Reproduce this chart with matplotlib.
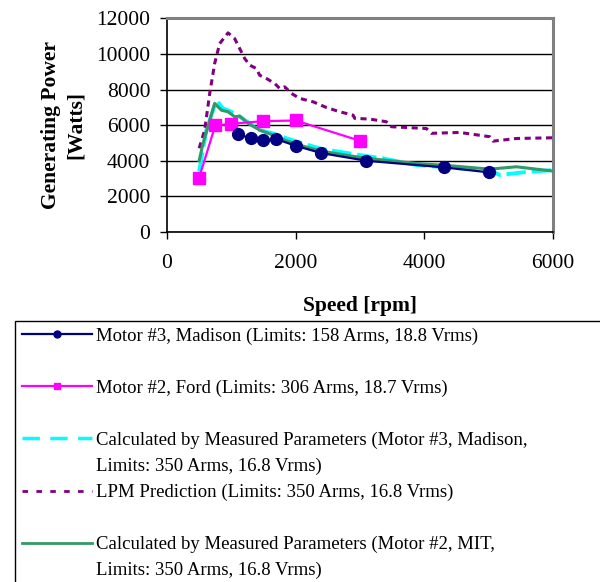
import matplotlib.pyplot as plt
from matplotlib.lines import Line2D

plt.rcParams['font.family'] = ['Liberation Serif', 'DejaVu Serif']
plt.rcParams['font.size'] = 15.5

# Motor #3, Madison (measured)
madison_x = [1100, 1300, 1500, 1700, 2000, 2400, 3100, 4300, 5000]
madison_y = [5480, 5270, 5160, 5215, 4840, 4430, 4000, 3630, 3350]

# Motor #2, Ford (measured)
ford_x = [500, 750, 1000, 1500, 2000, 3000]
ford_y = [3050, 5980, 6075, 6225, 6260, 5120]

# Calculated by measured parameters, Motor #3 Madison
calc3_x = [500, 612, 768, 871, 1001, 1130, 1285, 1441, 1648, 1856, 2114, 2373,
           2685, 2996, 3358, 3877, 4395, 5016, 5172, 5534, 6000]
calc3_y = [3400, 5720, 7400, 6940, 6750, 6470, 6100, 5720, 5540, 5260, 4970, 4690,
           4500, 4320, 4130, 3760, 3610, 3480, 3200, 3350, 3480]

# LPM prediction
lpm_x = [500, 586, 664, 741, 819, 949, 1052, 1130, 1208, 1285, 1389, 1441, 1545,
         1674, 1752, 1830, 1934, 2063, 2270, 2478, 2685, 2892, 2918, 3151, 3410,
         3488, 4032, 4110, 4550, 5016, 5068, 5431, 6000]
lpm_y = [4700, 5720, 7780, 9460, 10580, 11180, 10860, 10300, 9740, 9370, 9180, 8800,
         8620, 8340, 8060, 8150, 7780, 7500, 7310, 6990, 6750, 6560, 6380, 6340, 6190,
         5910, 5810, 5540, 5590, 5350, 5100, 5250, 5290]

# Calculated by measured parameters, Motor #2 MIT
calc2_x = [500, 560, 741, 845, 949, 1052, 1130, 1260, 1441, 1648, 1856, 2114, 2373,
           2685, 2996, 3358, 3877, 4395, 5016, 5431, 6000]
calc2_y = [4000, 4970, 7220, 6840, 6750, 6470, 6510, 6100, 5720, 5440, 5120, 4820,
           4560, 4370, 4190, 4040, 3850, 3720, 3530, 3660, 3420]

labels = [
    'Motor #3, Madison (Limits: 158 Arms, 18.8 Vrms)',
    'Motor #2, Ford (Limits: 306 Arms, 18.7 Vrms)',
    'Calculated by Measured Parameters (Motor #3, Madison,',
    'Limits: 350 Arms, 16.8 Vrms)',
    'LPM Prediction (Limits: 350 Arms, 16.8 Vrms)',
    'Calculated by Measured Parameters (Motor #2, MIT,',
    'Limits: 350 Arms, 16.8 Vrms)',
]

fig = plt.figure(figsize=(6, 5.82), dpi=100)
ax = fig.add_axes([0.2783, 0.6014, 0.6434, 0.3672])

ax.plot(calc3_x, calc3_y, color='#00FFFF', lw=2.8, ls=(0, (5, 1.5)), zorder=3)
ax.plot(lpm_x, lpm_y, color='#800080', lw=2.2, ls=(0, (2, 1.5)), zorder=3)
ax.plot(calc2_x, calc2_y, color='#339966', lw=2.2, zorder=4)
ax.plot(ford_x, ford_y, color='#FF00FF', lw=1.6, marker='s', ms=8, zorder=5)
ax.plot(madison_x, madison_y, color='#000080', lw=1.6, marker='o', ms=8.5, zorder=6)

ax.set_xlim(0, 6000)
ax.set_ylim(0, 12000)
ax.set_xticks([0, 2000, 4000, 6000])
ax.set_yticks(range(0, 12001, 2000))
ax.yaxis.grid(True, color='black', lw=1)
ax.set_axisbelow(True)
ax.tick_params(direction='out', length=5, width=1, color='black')
ax.tick_params(axis='x', pad=11)
ax.tick_params(axis='y', pad=7)
for s in ['left', 'bottom']:
    ax.spines[s].set_color('black')
    ax.spines[s].set_linewidth(1.2)
for s in ['top', 'right']:
    ax.spines[s].set_color('#808080')
    ax.spines[s].set_linewidth(2.2)

ax.set_ylabel('Generating Power\n[Watts]', fontweight='bold', linespacing=1.35)
ax.yaxis.set_label_coords(-0.21, 0.5)
ax.set_xlabel('Speed [rpm]', fontweight='bold')
ax.xaxis.set_label_coords(0.5, -0.30)

blank = Line2D([], [], ls='none')
handles = [
    Line2D([], [], color='#000080', lw=1.6, marker='o', ms=5),
    blank,
    Line2D([], [], color='#FF00FF', lw=1.6, marker='s', ms=5),
    blank,
    Line2D([], [], color='#00FFFF', lw=2.5, ls=(0, (5, 3))),
    blank,
    Line2D([], [], color='#800080', lw=2, ls=(0, (2, 3))),
    blank,
    Line2D([], [], color='#339966', lw=2),
    blank,
]
leg_labels = [labels[0], ' ', labels[1], ' ', labels[2], labels[3],
              labels[4], ' ', labels[5], labels[6]]
leg = fig.legend(handles, leg_labels, loc='upper left',
                 bbox_to_anchor=(15 / 600, 0, 1.0, 1 - 321 / 582), mode='expand',
                 frameon=True, fancybox=False, edgecolor='black',
                 framealpha=1, borderpad=0.35, borderaxespad=0,
                 labelspacing=0.47, handlelength=3.75, handletextpad=0.2,
                 fontsize=13.5)
leg.get_frame().set_linewidth(1)

fig.savefig('out.png', dpi=100)
